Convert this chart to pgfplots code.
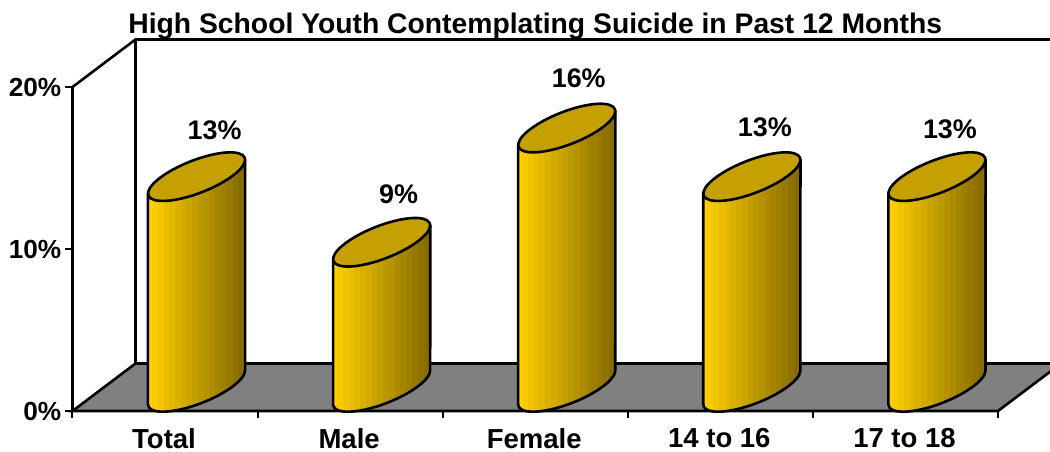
\documentclass[border=0pt]{standalone}
\usepackage{pgfplots}
\pgfplotsset{compat=1.18}
\usepackage{fontspec}
\setmainfont{Liberation Sans}
\definecolor{barlight}{RGB}{255,208,0}
\definecolor{bardark}{RGB}{135,108,0}
\definecolor{bartop}{RGB}{196,160,0}
\definecolor{floorgray}{RGB}{128,128,128}

\pgfdeclareplotmark{cylnone}{}
% cylinder sits half way back: offset (31.5,23.75) from the front plane point
\newcommand{\bodypath}{%
  \pgfpathmoveto{\pgfpoint{-17.1bp}{6.75bp}}%
  \pgfpathlineto{\pgfpoint{-17.1bp}{6.75bp-\H bp}}%
  \pgfpatharcaxes{172.9}{352.9}{\pgfpoint{48.2bp}{18.9bp}}{\pgfpoint{-5.98bp}{15.27bp}}%
  \pgfpathlineto{\pgfpoint{80.1bp}{40.75bp}}%
  \pgfpathclose}
\newcommand{\cylinder}{%
  \pgfmathsetmacro\H{\val*16.2}%
  \begin{scope}[x=1bp,y=1bp,line width=2.6bp,line join=round]
    \begin{scope}
      \bodypath\pgfusepath{clip}
      % thin gaps between the strips let the background through, as in the original
      \foreach \s in {0,...,16}{
        \pgfmathsetmacro\p{100-100*\s/16}
        \fill[barlight!\p!bardark] ({-17.5+5.76*\s},-\H-10) rectangle ({-17.5+5.76*\s+5.45},60);
      }
    \end{scope}
    \bodypath\pgfusepath{stroke}
    \pgfsetfillcolor{bartop}
    \pgfpathellipse{\pgfpoint{31.5bp}{23.75bp}}{\pgfpoint{48.2bp}{18.9bp}}{\pgfpoint{-5.98bp}{15.27bp}}%
    \pgfusepath{fill,stroke}
  \end{scope}%
}

\begin{document}
\begin{tikzpicture}
\path[use as bounding box,clip] (-72.5bp,-41bp) rectangle (977.5bp,411bp);
\begin{axis}[
  scale only axis,
  width=925.5bp,height=324bp,
  xmin=-0.5,xmax=4.5,ymin=0,ymax=20,
  clip=false,
  axis x line*=bottom,axis y line*=left,
  axis line style={line width=2.6bp,-},
  xtick={0,1,2,3,4},
  xticklabels={Total,Male,Female,14 to 16,17 to 18},
  minor xtick={-0.5,0.5,1.5,2.5,3.5,4.5},
  ytick={0,10,20},
  yticklabel={\pgfmathprintnumber{\tick}\%},
  /pgf/number format/assume math mode=true,
  tick align=outside,
  major x tick style={draw=none},
  minor tick length=7bp,
  major tick length=7bp,
  minor x tick style={line width=2bp,black},
  major y tick style={line width=2.2bp,black},
  xticklabel style={font=\fontsize{27.6}{28}\selectfont\bfseries,yshift=-10.5bp,xshift=-1bp,inner sep=0pt},
  yticklabel style={font=\fontsize{26.3}{27}\selectfont\bfseries,inner sep=0pt,xshift=-4bp},
  title={High School Youth Contemplating Suicide in Past 12 Months},
  title style={font=\fontsize{28.4}{29}\selectfont\bfseries,at={(0.5,1)},anchor=center,yshift=55bp,inner sep=0pt},
]
% floor and back wall
\addplot[draw=black,line width=2.6bp,fill=floorgray,mark=none] coordinates
  {(-0.5,0) (-0.16,2.93) (4.84,2.93) (4.5,0)} \closedcycle;
\addplot[draw=black,line width=2.6bp,mark=none] coordinates
  {(-0.5,20) (-0.16,22.93) (4.84,22.93)};
\addplot[draw=black,line width=2.6bp,mark=none] coordinates
  {(-0.16,2.93) (-0.16,22.93)};
% cylinders
\addplot[scatter,only marks,mark=cylnone,
  visualization depends on={\thisrow{v}\as\val},
  scatter/@pre marker code/.code={\cylinder\scope},
  scatter/@post marker code/.code={\endscope},
  ] table[x=k,y=v] {
k v
0 13
1 8.95
2 16
3 13
4 13
};
% value labels, lx and ly nudge each one
\addplot[only marks,mark=none,
  visualization depends on={\thisrow{lx}\as\lx},
  visualization depends on={\thisrow{ly}\as\ly},
  nodes near coords={\pgfmathprintnumber[precision=0]{\pgfplotspointmeta}\%},
  every node near coord/.style={anchor=center,xshift=\lx bp,yshift=\ly bp,inner sep=0pt,
    font=\fontsize{27}{27}\selectfont\bfseries},
  /pgf/number format/assume math mode=true,
  ] table[x=k,y=v] {
k v lx ly
0 13 49.5 70
1 8.95 48.5 71.6
2 16 43.5 74
3 13 44.5 73
4 13 44.5 71
};
\end{axis}
\end{tikzpicture}
\end{document}
